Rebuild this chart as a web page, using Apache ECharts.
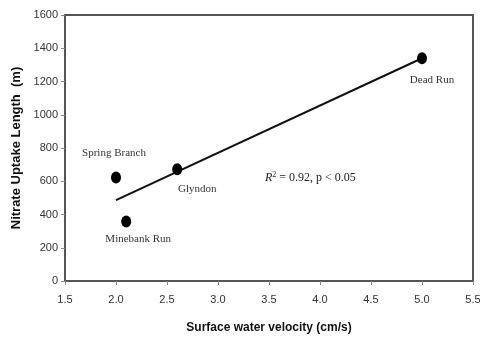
<!DOCTYPE html>
<html><head><meta charset="utf-8">
<script src="https://cdn.jsdelivr.net/npm/echarts@6/dist/echarts.min.js"></script>
<style>html,body{margin:0;padding:0;background:#fff}#c{width:480px;height:341px}</style>
</head><body><div id="c"></div>
<script>
const siteNames = ['Spring Branch', 'Minebank Run', 'Glyndon', 'Dead Run'];
const velocity = [2.0, 2.1, 2.6, 5.0];
const uptakeLength = [622, 358, 672, 1340];
const fitX = [2.0, 5.0];
const fitY = [487, 1340];
const xTicks = [1.5, 5.5, 0.5];
const yTicks = [0, 1600, 200];

const labelOffsets = [[-2, -24], [12, 18], [20, 20], [10, 22]];

const chart = echarts.init(document.getElementById('c'));
const serif = 'Liberation Serif';
const sans = 'Liberation Sans';
chart.setOption({
  animation: false,
  grid: {left: 65, right: 7, top: 15, bottom: 60, show: true, borderColor: '#555', borderWidth: 2, outerBoundsMode: 'none'},
  xAxis: {
    type: 'value', min: xTicks[0], max: xTicks[1], interval: xTicks[2],
    axisLine: {show: true, lineStyle: {color: '#555', width: 2}},
    axisTick: {show: true, length: 4, lineStyle: {color: '#888'}},
    splitLine: {show: false},
    axisLabel: {color: '#333', fontFamily: sans, fontSize: 11, margin: 13, formatter: v => v.toFixed(1)},
    name: 'Surface water velocity (cm/s)', nameLocation: 'middle', nameGap: 41,
    nameTextStyle: {color: '#111', fontFamily: sans, fontWeight: 'bold', fontSize: 12}
  },
  yAxis: {
    type: 'value', min: yTicks[0], max: yTicks[1], interval: yTicks[2],
    axisLine: {show: true, lineStyle: {color: '#555', width: 2}},
    axisTick: {show: true, length: 4, lineStyle: {color: '#888'}},
    splitLine: {show: false},
    axisLabel: {color: '#333', fontFamily: sans, fontSize: 11, margin: 7, formatter: v => String(v)},
    name: 'Nitrate Uptake Length  (m)', nameLocation: 'middle', nameGap: 41,
    nameTextStyle: {color: '#111', fontFamily: sans, fontWeight: 'bold', fontSize: 13}
  },
  series: [
    {
      type: 'line', data: fitX.map((x, i) => [x, fitY[i]]), symbol: 'none',
      lineStyle: {color: '#111', width: 2}, z: 2
    },
    {
      type: 'scatter', symbol: 'circle', symbolSize: [10, 12],
      itemStyle: {color: '#000', opacity: 1}, z: 3,
      data: velocity.map((x, i) => ({
        value: [x, uptakeLength[i]], name: siteNames[i],
        label: {show: true, position: 'inside', offset: labelOffsets[i], formatter: '{b}',
          color: '#333', fontFamily: serif, fontSize: 11}
      }))
    }
  ],
  graphic: [{
    type: 'text', left: 265, top: 171,
    style: {
      text: '{i|R}{s|2}{n| = 0.92, p < 0.05}',
      rich: {
        i: {fontFamily: serif, fontStyle: 'italic', fontSize: 12, fill: '#222'},
        s: {fontFamily: serif, fontSize: 8, fill: '#222', verticalAlign: 'top', padding: [0, 0, 6, 0]},
        n: {fontFamily: serif, fontSize: 12, fill: '#222'}
      }
    }
  }]
});
</script></body></html>
